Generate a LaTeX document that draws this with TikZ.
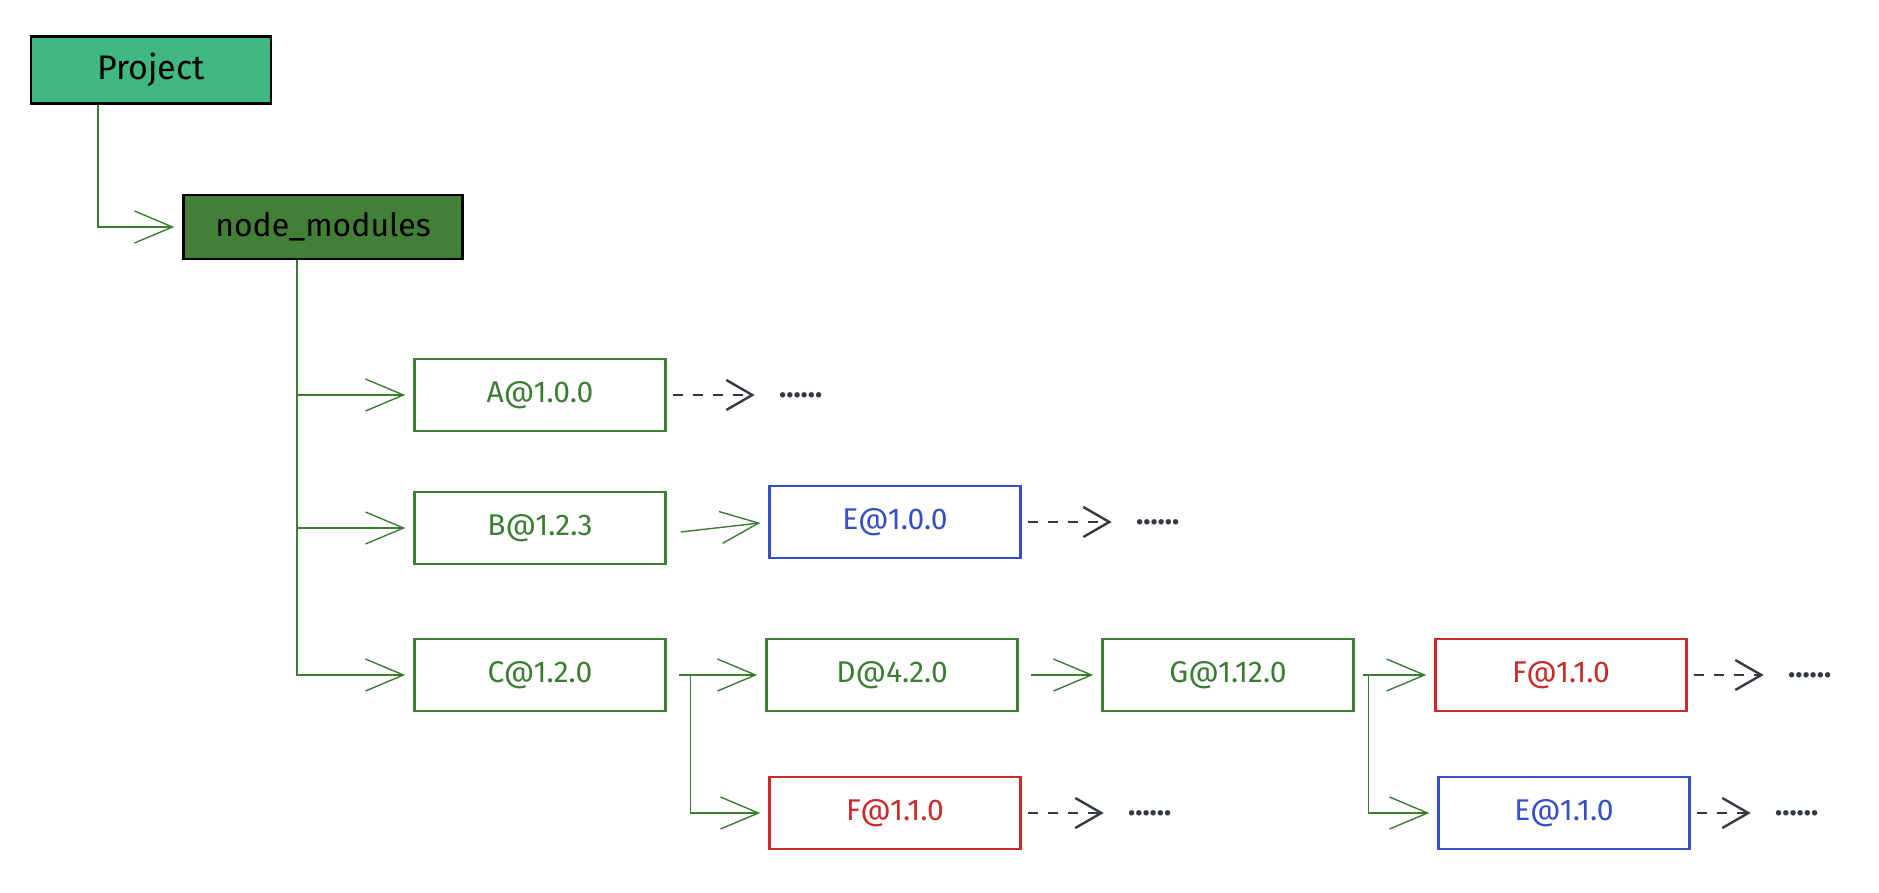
\documentclass[tikz,border=0pt]{standalone}
\usepackage{fontspec}
\setmainfont{Fira Sans}
\usepackage{tikz}
\usetikzlibrary{arrows.meta,positioning}

\definecolor{grn}{HTML}{3C7D34}
\definecolor{rd}{HTML}{C92A2A}
\definecolor{bl}{HTML}{364FC7}
\definecolor{gry}{HTML}{343A40}
\definecolor{projfill}{HTML}{40B882}
\definecolor{nmfill}{HTML}{437F37}

\tikzset{
  pkg/.style={draw=grn,text=grn,line width=1.2pt,minimum width=125.5pt,minimum height=36pt,font=\fontsize{15}{17}\selectfont},
  redpkg/.style={pkg,draw=rd,text=rd},
  bluepkg/.style={pkg,draw=bl,text=bl},
  dots/.style={text=gry,inner sep=0pt,font=\fontsize{15}{17}\selectfont\bfseries},
  link/.style={draw=grn,line width=0.7pt,-{Straight Barb[length=19pt,width=16pt]},shorten >=4pt},
  dashlink/.style={draw=gry,line width=1.2pt,dash pattern=on 5pt off 5pt,-{Straight Barb[length=13pt,width=15pt]},shorten <=3pt,shorten >=12pt}
}

\begin{document}
\begin{tikzpicture}[x=0.5pt,y=-0.5pt]
  \useasboundingbox (0,0) rectangle (1879,893);
  % top of the tree
  \node[draw=black,fill=projfill,line width=1.2pt,minimum width=120pt,minimum height=33.5pt,font=\fontsize{17}{19}\selectfont] (proj) at (151,70) {Project};
  \node[draw=black,fill=nmfill,line width=1.2pt,minimum width=139.5pt,minimum height=32pt,font=\fontsize{16}{18}\selectfont] (nm) at (323,227) {node\_modules};
  % packages
  \node[pkg] (a) at (540,395) {A@1.0.0};
  \node[pkg] (b) at (540,528) {B@1.2.3};
  \node[pkg] (c) at (540,675) {C@1.2.0};
  \node[bluepkg] (e1) at (895,522) {E@1.0.0};
  \node[pkg] (d) at (892,675) {D@4.2.0};
  \node[pkg] (g) at (1228,675) {G@1.12.0};
  \node[redpkg] (f1) at (1561,675) {F@1.1.0};
  \node[redpkg] (f2) at (895,813) {F@1.1.0};
  \node[bluepkg] (e2) at (1564,813) {E@1.1.0};
  % more below
  \node[dots,right=56pt of a] (adots) {......};
  \node[dots,right=57pt of e1] (e1dots) {......};
  \node[dots,right=50pt of f1] (f1dots) {......};
  \node[dots,right=53pt of f2] (f2dots) {......};
  \node[dots,right=42pt of e2] (e2dots) {......};

  \draw[link] ([xshift=-26.5pt]proj.south) |- (nm.west);
  \draw[link] ([xshift=-13pt]nm.south) |- (a.west);
  \draw[link] ([xshift=-13pt]nm.south) |- (b.west);
  \draw[link] ([xshift=-13pt]nm.south) |- (c.west);
  \draw[link] ([xshift=7pt,yshift=-2pt]b.east) -- (e1.west);
  \draw[link] ([xshift=6pt]c.east) -- (d.west);
  \draw[link] ([xshift=12pt]c.east) |- (f2.west);
  \draw[link] ([xshift=6pt]d.east) -- (g.west);
  \draw[link] ([xshift=4pt]g.east) -- (f1.west);
  \draw[link] ([xshift=7pt]g.east) |- (e2.west);
  \draw[dashlink] (a.east) -- (adots.west);
  \draw[dashlink] (e1.east) -- (e1dots.west);
  \draw[dashlink] (f1.east) -- (f1dots.west);
  \draw[dashlink] (f2.east) -- (f2dots.west);
  \draw[dashlink] (e2.east) -- (e2dots.west);
\end{tikzpicture}
\end{document}
